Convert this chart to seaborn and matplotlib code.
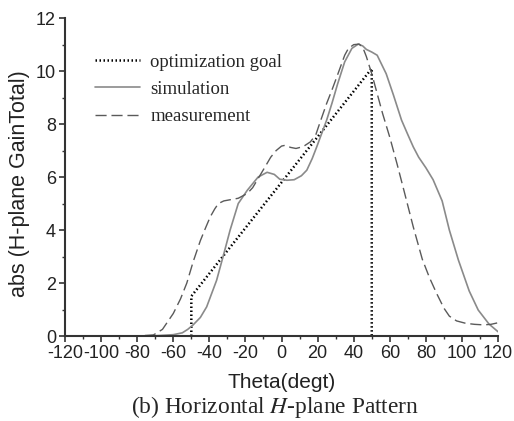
import matplotlib
matplotlib.use("Agg")
import matplotlib.pyplot as plt
import seaborn as sns
import pandas as pd
from matplotlib.ticker import MultipleLocator

theta_goal = [-50, -50, 50, 50]
goal = [0.0, 1.5, 10.1, 0.0]

theta_sim = [-120, -100, -80, -70, -60, -55, -52, -49, -45, -41.5, -36, -32, -28.5, -24,
             -19, -13, -8, -4, -1, 3, 7, 11, 14, 17, 19.5, 22, 25, 28, 31, 35, 39, 42.5,
             45, 47, 50, 53, 58, 62, 66.5, 70, 73, 76, 80, 84, 89, 93, 98, 104, 109, 115, 120]
sim = [0, 0, 0, 0.01, 0.05, 0.12, 0.25, 0.42, 0.7, 1.1, 2.1, 3.1, 4.0, 5.0,
       5.5, 6.0, 6.18, 6.1, 5.92, 5.88, 5.9, 6.05, 6.26, 6.7, 7.14, 7.6, 8.15, 8.8, 9.5, 10.35, 10.86, 11.02,
       10.95, 10.82, 10.72, 10.6, 9.9, 9.1, 8.15, 7.6, 7.14, 6.75, 6.35, 5.9, 5.1, 4.0, 2.87, 1.7, 0.98, 0.45, 0.16]

theta_meas = [-120, -100, -80, -71, -66, -60, -56, -52.5, -49, -45, -42, -39.5, -37, -35,
              -32, -28, -24, -19, -16, -12.5, -9, -6, -3, 0, 2, 5, 8, 12, 16, 19, 21, 25,
              28, 31, 35, 37, 40, 43, 45, 47, 50, 52, 56, 60, 64, 68, 73, 78, 82, 86, 90,
              93, 97, 102, 107, 112, 116, 120]
meas = [0, 0, 0, 0.04, 0.25, 0.85, 1.4, 2.0, 2.8, 3.6, 4.1, 4.5, 4.8, 5.0,
        5.1, 5.15, 5.2, 5.38, 5.6, 6.0, 6.4, 6.75, 7.0, 7.17, 7.2, 7.12, 7.08, 7.15, 7.33, 7.6, 8.0, 8.78,
        9.3, 9.85, 10.6, 10.85, 11.0, 11.02, 10.9, 10.55, 9.9, 9.4, 8.4, 7.5, 6.5, 5.45, 4.12, 2.9, 2.2, 1.6, 1.05,
        0.75, 0.57, 0.48, 0.44, 0.42, 0.44, 0.5]

x_ticks = list(range(-120, 121, 20))
y_ticks = list(range(0, 13, 2))

sns.set_style("ticks")
plt.rcParams['font.family'] = ['Liberation Sans', 'DejaVu Sans']
plt.rcParams['axes.unicode_minus'] = False

fig = plt.figure(figsize=(5.14, 4.21), dpi=100)
ax = fig.add_axes([0.1265, 0.2019, 0.8425, 0.755])

df_goal = pd.DataFrame({"theta": theta_goal, "val": goal})
df_sim = pd.DataFrame({"theta": theta_sim, "val": sim})
df_meas = pd.DataFrame({"theta": theta_meas, "val": meas})

sns.lineplot(data=df_goal, x="theta", y="val", ax=ax, sort=False, estimator=None,
             color="black", lw=1.8, linestyle=(0, (0.6, 1.0)), label="optimization goal")
sns.lineplot(data=df_sim, x="theta", y="val", ax=ax, sort=False, estimator=None,
             color="#8a8a8a", lw=1.2, label="simulation")
sns.lineplot(data=df_meas, x="theta", y="val", ax=ax, sort=False, estimator=None,
             color="#5a5a5a", lw=1.0, dashes=(8, 3.5), label="measurement")

ax.set_xlim(-120, 120)
ax.set_ylim(0, 12)
ax.set_xticks(x_ticks)
ax.set_yticks(y_ticks)
ax.xaxis.set_minor_locator(MultipleLocator(10))
ax.yaxis.set_minor_locator(MultipleLocator(1))
for s in ["top", "right"]:
    ax.spines[s].set_visible(False)
for s in ["left", "bottom"]:
    ax.spines[s].set_color("#333333")
    ax.spines[s].set_linewidth(1.5)
ax.tick_params(which="major", direction="out", length=4, width=1.2, color="#333333",
               labelsize=13, pad=2.5, labelcolor="#222222")
ax.tick_params(which="minor", direction="out", length=2.5, width=1.0, color="#333333")

ax.set_xlabel("Theta(degt)", fontsize=15, color="#222222")
ax.set_ylabel("abs (H-plane GainTotal)", fontsize=15.5, color="#222222")
ax.xaxis.label.set_va("center")
ax.yaxis.label.set_va("center")
ax.xaxis.set_label_coords(0.501, -0.145)
ax.yaxis.set_label_coords(-0.106, 0.48)

leg = ax.legend(loc="upper left", bbox_to_anchor=(0.069, 0.889), frameon=False,
                borderaxespad=0, borderpad=0,
                prop={"family": "Liberation Serif", "size": 13.5}, handlelength=2.4,
                handletextpad=0.55, labelspacing=0.55)

fig.text(0.535, 0.033, r"(b) Horizontal $\mathit{H}$-plane Pattern", ha="center", va="center",
         fontsize=16.8, family="Liberation Serif", math_fontfamily="stix")

fig.savefig("out.png", dpi=100)
